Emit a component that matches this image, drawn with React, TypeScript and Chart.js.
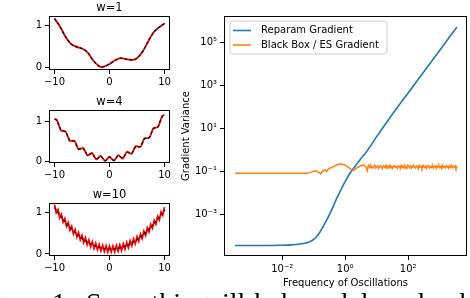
import React, { useEffect, useRef } from "react";
import { Chart, registerables } from "chart.js";

Chart.register(...registerables);

const FONT = "'DejaVu Sans', 'Noto Sans', sans-serif";

// ---------------- left panels ----------------
const w1X = [-10, -9, -8, -7, -6, -5, -4, -3, -2, -1.5, -1, 0, 1, 2, 3, 4, 5, 6, 7, 8, 9, 10];
const w1Y = [1.17, 0.98, 0.74, 0.57, 0.5, 0.46, 0.37, 0.18, 0.05, 0.02, 0.03, 0.09, 0.18, 0.23, 0.21, 0.19, 0.23, 0.38, 0.62, 0.84, 0.96, 1.05];

const w4X = [-10, -9.6, -9.2, -8.8, -8.4, -8, -7.6, -7.2, -6.8, -6.4, -6, -5.6, -5.2, -4.8, -4.4, -4, -3.6, -3.2, -2.8, -2.4, -2, -1.6, -1.2, -0.8, -0.4, 0, 0.4, 0.8, 1.2, 1.6, 2, 2.4, 2.8, 3.2, 3.6, 4, 4.4, 4.8, 5.2, 5.6, 6, 6.4, 6.8, 7.2, 7.6, 8, 8.4, 8.8, 9.2, 9.6, 10];
const w4Red = [1.05, 1.03, 0.893, 0.759, 0.749, 0.742, 0.618, 0.498, 0.502, 0.508, 0.398, 0.291, 0.308, 0.328, 0.231, 0.138, 0.168, 0.202, 0.118, 0.039, 0.082, 0.129, 0.059, 0.005, 0.05, 0.11, 0.054, 0.01, 0.071, 0.145, 0.102, 0.063, 0.146, 0.234, 0.204, 0.178, 0.275, 0.376, 0.36, 0.347, 0.458, 0.572, 0.57, 0.57, 0.695, 0.822, 0.833, 0.847, 0.985, 1.126, 1.15];
const w4Black = [1.05, 1.015, 0.893, 0.774, 0.749, 0.727, 0.618, 0.513, 0.502, 0.493, 0.398, 0.306, 0.308, 0.313, 0.231, 0.153, 0.168, 0.187, 0.118, 0.054, 0.082, 0.114, 0.059, 0.008, 0.05, 0.095, 0.054, 0.016, 0.071, 0.13, 0.102, 0.078, 0.146, 0.219, 0.204, 0.193, 0.275, 0.361, 0.36, 0.362, 0.458, 0.557, 0.57, 0.585, 0.695, 0.807, 0.833, 0.862, 0.985, 1.111, 1.15];

const w10RedX = [-10, -9.6875, -9.375, -9.0625, -8.75, -8.4375, -8.125, -7.8125, -7.5, -7.1875, -6.875, -6.5625, -6.25, -5.9375, -5.625, -5.3125, -5, -4.6875, -4.375, -4.0625, -3.75, -3.4375, -3.125, -2.8125, -2.5, -2.1875, -1.875, -1.5625, -1.25, -0.9375, -0.625, -0.3125, 0, 0.3125, 0.625, 0.9375, 1.25, 1.5625, 1.875, 2.1875, 2.5, 2.8125, 3.125, 3.4375, 3.75, 4.0625, 4.375, 4.6875, 5, 5.3125, 5.625, 5.9375, 6.25, 6.5625, 6.875, 7.1875, 7.5, 7.8125, 8.125, 8.4375, 8.75, 9.0625, 9.375, 9.6875, 10];
const w10Red = [1.2, 0.999, 1.079, 0.882, 0.967, 0.773, 0.861, 0.672, 0.764, 0.578, 0.674, 0.492, 0.592, 0.413, 0.517, 0.343, 0.45, 0.279, 0.391, 0.224, 0.339, 0.176, 0.295, 0.136, 0.259, 0.103, 0.23, 0.079, 0.209, 0.061, 0.196, 0.052, 0.19, 0.05, 0.192, 0.056, 0.202, 0.069, 0.219, 0.09, 0.244, 0.119, 0.276, 0.155, 0.317, 0.2, 0.365, 0.251, 0.42, 0.311, 0.483, 0.378, 0.554, 0.452, 0.633, 0.535, 0.719, 0.625, 0.813, 0.722, 0.914, 0.828, 1.023, 0.941, 1.14];
const w10BlackX = [-10, -9, -8, -7, -6, -5, -4, -3, -2, -1, 0, 1, 2, 3, 4, 5, 6, 7, 8, 9, 10];
const w10Black = [1.13, 0.941, 0.771, 0.621, 0.491, 0.38, 0.289, 0.217, 0.165, 0.133, 0.12, 0.127, 0.153, 0.199, 0.265, 0.35, 0.455, 0.579, 0.723, 0.887, 1.07];

const smallXTicks = [-10, 0, 10];
const smallYTicks = [0, 1];

// ---------------- right panel (log10 values) ----------------
const blueLogX = [-3.5, -2.5, -2.07, -1.7, -1.44, -1.25, -1.12, -1.0, -0.91, -0.8, -0.7, -0.59, -0.48, -0.37, -0.27, -0.16, -0.06, 0.05, 0.15, 0.26, 0.37, 0.52, 0.68, 1.0, 1.37, 2.0, 3.0, 3.55];
const blueLogY = [-4.46, -4.46, -4.45, -4.43, -4.39, -4.34, -4.28, -4.17, -4.05, -3.83, -3.58, -3.28, -2.96, -2.6, -2.26, -1.94, -1.64, -1.35, -1.09, -0.86, -0.66, -0.37, -0.08, 0.62, 1.4, 2.66, 4.64, 5.74];

const orangeLogX = [
  -3.5, -3.0, -2.5, -2.0, -1.5, -1.22, -1.12, -1.01, -0.93, -0.85, -0.78, -0.71, -0.64, -0.59, -0.52, -0.44, -0.38, -0.32, -0.22, -0.11, -0.01, 0.1, 0.21, 0.26, 0.34, 0.47, 0.57, 0.66, 0.7, 0.74,
  0.76, 0.79, 0.82, 0.85, 0.88, 0.91, 0.94, 0.97, 1.0, 1.03, 1.06, 1.09, 1.12, 1.15, 1.18, 1.21, 1.24, 1.27, 1.3, 1.33, 1.36, 1.39, 1.42, 1.45, 1.48, 1.51, 1.54, 1.57, 1.6, 1.63, 1.66, 1.69, 1.72, 1.75, 1.78, 1.81, 1.84, 1.87, 1.9, 1.93, 1.96, 1.99, 2.02, 2.05, 2.08, 2.11, 2.14, 2.17, 2.2, 2.23, 2.26, 2.29, 2.32, 2.35, 2.38, 2.41, 2.44, 2.47, 2.5, 2.53, 2.56, 2.59, 2.62, 2.65, 2.68, 2.71, 2.74, 2.77, 2.8, 2.83, 2.86, 2.89, 2.92, 2.95, 2.98, 3.01, 3.04, 3.07, 3.1, 3.13, 3.16, 3.19, 3.22, 3.25, 3.28, 3.31, 3.34, 3.37, 3.4, 3.43, 3.46, 3.49, 3.52, 3.55,
];
const orangeLogY = [
  -1.09, -1.09, -1.09, -1.09, -1.09, -1.09, -1.06, -1.0, -0.97, -1.04, -1.12, -0.97, -0.93, -1.01, -0.86, -0.83, -0.78, -0.74, -0.67, -0.66, -0.7, -0.81, -0.94, -0.97, -0.86, -0.75, -0.7, -0.78, -0.97, -0.7,
  -0.74, -0.83, -0.72, -0.81, -0.85, -0.76, -0.71, -0.84, -0.79, -0.75, -0.86, -0.77, -0.73, -0.82, -0.87, -0.74, -0.78, -0.83, -0.72, -0.85, -0.76, -0.8, -0.71, -0.84, -0.77, -0.86, -0.75, -0.73, -0.82, -0.79, -0.85, -0.74, -0.76, -0.87, -0.72, -0.81, -0.75, -0.84, -0.73, -0.8, -0.86, -0.71, -0.77, -0.83, -0.74, -0.85, -0.78, -0.72, -0.82, -0.84, -0.75, -0.77, -0.87, -0.73, -0.81, -0.76, -0.85, -0.72, -0.79, -0.83, -0.74, -0.86, -0.76, -0.73, -0.84, -0.78, -0.82, -0.71, -0.85, -0.77, -0.75, -0.86, -0.74, -0.8, -0.73, -0.83, -0.76, -0.87, -0.72, -0.81, -0.78, -0.84, -0.73, -0.76, -0.85, -0.75, -0.82, -0.72, -0.84, -0.77, -0.8, -0.74, -0.86, -0.75,
];

const xTickValues = [1e-2, 1, 1e2];
const xTickLabels = ["10\u207B\u00B2", "10\u2070", "10\u00B2"];
const yTickValues = [1e-3, 1e-1, 1e1, 1e3, 1e5];
const yTickLabels = ["10\u207B\u00B3", "10\u207B\u00B9", "10\u00B9", "10\u00B3", "10\u2075"];

const legendLabels = ["Reparam Gradient", "Black Box / ES Gradient"];
const BLUE = "#1f77b4";
const ORANGE = "#ff7f0e";

function minus(v: number) {
  return v < 0 ? "\u2212" + Math.abs(v) : String(v);
}

const tickGrid = { display: true, drawOnChartArea: false, drawTicks: true, tickLength: 4, color: "#000", lineWidth: 1 };

function framePlugin(extra?: (chart: any) => void) {
  return {
    id: "frame",
    afterDraw(chart: any) {
      const { ctx, chartArea: a } = chart;
      ctx.save();
      ctx.strokeStyle = "#000";
      ctx.lineWidth = 1;
      const l = Math.round(a.left) + 0.5;
      const t = Math.round(a.top) + 0.5;
      const r = Math.round(a.right) - 0.5;
      const b = Math.round(a.bottom) - 0.5;
      ctx.strokeRect(l, t, r - l, b - t);
      ctx.restore();
      if (extra) extra(chart);
    },
  };
}

function leftConfig(title: string, redX: number[], redY: number[], blackX: number[], blackY: number[], xh: number, yMax: number, curved: boolean) {
  return {
    type: "line",
    data: {
      datasets: [
        {
          data: blackX.map((x, i) => ({ x, y: blackY[i] })),
          borderColor: "#000",
          borderWidth: 1.2,
          borderDash: [3, 2],
          pointRadius: 0,
          cubicInterpolationMode: "monotone",
          order: 0,
        },
        {
          data: redX.map((x, i) => ({ x, y: redY[i] })),
          borderColor: "#ff0000",
          borderWidth: 1.8,
          pointRadius: 0,
          cubicInterpolationMode: curved ? "monotone" : "default",
          tension: 0,
          order: 1,
        },
      ],
    },
    options: {
      animation: false,
      responsive: false,
      maintainAspectRatio: false,
      events: [],
      layout: { padding: { left: 0, right: 6, top: 16, bottom: 0 } },
      plugins: { legend: { display: false }, tooltip: { enabled: false } },
      scales: {
        x: {
          type: "linear",
          min: -11,
          max: 11,
          afterBuildTicks: (s: any) => {
            s.ticks = smallXTicks.map((v) => ({ value: v }));
          },
          afterFit: (s: any) => {
            s.height = xh;
          },
          grid: tickGrid,
          border: { display: false },
          ticks: { font: { family: FONT, size: 10 }, color: "#000", padding: 2, maxRotation: 0, autoSkip: false, callback: (v: any) => minus(Number(v)) },
        },
        y: {
          type: "linear",
          min: -0.05,
          max: yMax,
          afterBuildTicks: (s: any) => {
            s.ticks = smallYTicks.map((v) => ({ value: v }));
          },
          afterFit: (s: any) => {
            s.width = 49;
          },
          grid: tickGrid,
          border: { display: false },
          ticks: { font: { family: FONT, size: 10 }, color: "#000", padding: 3, autoSkip: false, callback: (v: any) => String(v) },
        },
      },
    },
    plugins: [
      framePlugin((chart: any) => {
        const { ctx, chartArea: a } = chart;
        ctx.save();
        ctx.fillStyle = "#000";
        ctx.font = `11.5px ${FONT}`;
        ctx.textAlign = "center";
        ctx.textBaseline = "alphabetic";
        ctx.fillText(title, (a.left + a.right) / 2, a.top - 5.5);
        ctx.restore();
      }),
    ],
  };
}

function rightConfig() {
  return {
    type: "line",
    data: {
      datasets: [
        {
          data: orangeLogX.map((x, i) => ({ x: Math.pow(10, x), y: Math.pow(10, orangeLogY[i]) })),
          borderColor: ORANGE,
          borderWidth: 1.5,
          pointRadius: 0,
          tension: 0,
          order: 0,
        },
        {
          data: blueLogX.map((x, i) => ({ x: Math.pow(10, x), y: Math.pow(10, blueLogY[i]) })),
          borderColor: BLUE,
          borderWidth: 1.6,
          pointRadius: 0,
          cubicInterpolationMode: "monotone",
          order: 1,
        },
      ],
    },
    options: {
      animation: false,
      responsive: false,
      maintainAspectRatio: false,
      events: [],
      layout: { padding: { left: 0, right: 3, top: 16, bottom: 0 } },
      plugins: { legend: { display: false }, tooltip: { enabled: false } },
      scales: {
        x: {
          type: "logarithmic",
          min: Math.pow(10, -3.85),
          max: Math.pow(10, 3.87),
          afterBuildTicks: (s: any) => {
            s.ticks = xTickValues.map((v) => ({ value: v }));
          },
          afterFit: (s: any) => {
            s.height = 42;
          },
          grid: tickGrid,
          border: { display: false },
          ticks: { font: { family: FONT, size: 10 }, color: "#000", padding: 3, maxRotation: 0, autoSkip: false, callback: (_v: any, i: number) => xTickLabels[i] },
        },
        y: {
          type: "logarithmic",
          min: Math.pow(10, -4.95),
          max: Math.pow(10, 6.25),
          afterBuildTicks: (s: any) => {
            s.ticks = yTickValues.map((v) => ({ value: v }));
          },
          afterFit: (s: any) => {
            s.width = 48;
          },
          grid: tickGrid,
          border: { display: false },
          ticks: { font: { family: FONT, size: 10 }, color: "#000", padding: 3, autoSkip: false, callback: (_v: any, i: number) => yTickLabels[i] },
        },
      },
    },
    plugins: [
      framePlugin((chart: any) => {
        const { ctx, chartArea: a } = chart;
        ctx.save();
        ctx.fillStyle = "#000";
        ctx.font = `10px ${FONT}`;
        ctx.textAlign = "center";
        ctx.textBaseline = "middle";
        ctx.fillText("Frequency of Oscillations", (a.left + a.right) / 2, 283);
        ctx.save();
        ctx.translate(10, (a.top + a.bottom) / 2);
        ctx.rotate(-Math.PI / 2);
        ctx.fillText("Gradient Variance", 0, 0);
        ctx.restore();
        const lx = a.left + 6;
        const ly = a.top + 5;
        const lw = 157;
        const lh = 33;
        const rr = 3;
        ctx.beginPath();
        ctx.moveTo(lx + rr, ly);
        ctx.lineTo(lx + lw - rr, ly);
        ctx.quadraticCurveTo(lx + lw, ly, lx + lw, ly + rr);
        ctx.lineTo(lx + lw, ly + lh - rr);
        ctx.quadraticCurveTo(lx + lw, ly + lh, lx + lw - rr, ly + lh);
        ctx.lineTo(lx + rr, ly + lh);
        ctx.quadraticCurveTo(lx, ly + lh, lx, ly + lh - rr);
        ctx.lineTo(lx, ly + rr);
        ctx.quadraticCurveTo(lx, ly, lx + rr, ly);
        ctx.closePath();
        ctx.fillStyle = "rgba(255,255,255,0.8)";
        ctx.fill();
        ctx.strokeStyle = "#cccccc";
        ctx.lineWidth = 1;
        ctx.stroke();
        const colors = [BLUE, ORANGE];
        legendLabels.forEach((lab, i) => {
          const y = ly + 9.5 + i * 14.5;
          ctx.strokeStyle = colors[i];
          ctx.lineWidth = 1.6;
          ctx.beginPath();
          ctx.moveTo(lx + 3, y);
          ctx.lineTo(lx + 21, y);
          ctx.stroke();
          ctx.fillStyle = "#000";
          ctx.textAlign = "left";
          ctx.textBaseline = "middle";
          ctx.fillText(lab, lx + 31, y);
        });
        ctx.restore();
      }),
    ],
  };
}

function ChartCanvas({ make, left, top, width, height }: { make: () => any; left: number; top: number; width: number; height: number }) {
  const ref = useRef<HTMLCanvasElement>(null);
  useEffect(() => {
    const chart = new Chart(ref.current as HTMLCanvasElement, make());
    return () => chart.destroy();
  }, []);
  return <canvas ref={ref} width={width} height={height} style={{ position: "absolute", left, top, width, height }} />;
}

const captionStyle: React.CSSProperties = {
  position: "absolute",
  top: 289,
  whiteSpace: "nowrap",
  fontFamily: "'Liberation Serif', 'Times New Roman', serif",
  fontSize: 28,
  lineHeight: "28px",
  wordSpacing: "6px",
  color: "#000",
};

export default function App() {
  return (
    <div style={{ position: "fixed", left: 0, top: 0, width: 470, height: 298, overflow: "hidden", background: "#fff" }}>
      <ChartCanvas make={() => leftConfig("w=1", w1X, w1Y, w1X, w1Y, 20, 1.23, true)} left={0} top={0} width={176} height={90} />
      <ChartCanvas make={() => leftConfig("w=4", w4X, w4Red, w4X, w4Black, 21, 1.275, true)} left={0} top={94} width={176} height={90} />
      <ChartCanvas make={() => leftConfig("w=10", w10RedX, w10Red, w10BlackX, w10Black, 21, 1.24, false)} left={0} top={187} width={176} height={90} />
      <ChartCanvas make={rightConfig} left={176} top={0} width={294} height={298} />
      <div style={{ ...captionStyle, right: 470 - 40 }}>Figure</div>
      <div style={{ ...captionStyle, left: 52 }}>1. Smoothing ill-behaved loss landscapes with noise</div>
    </div>
  );
}
